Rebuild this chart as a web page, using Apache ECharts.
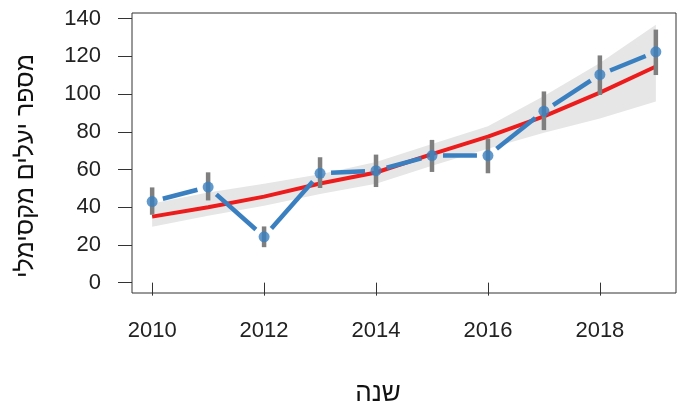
<!DOCTYPE html>
<html>
<head>
<meta charset="utf-8">
<script src="https://cdn.jsdelivr.net/npm/echarts@6/dist/echarts.min.js"></script>
<style>html,body{margin:0;padding:0;background:#fff}#c{width:677px;height:417px}</style>
</head>
<body>
<div id="c"></div>
<script>
// ---- data ----
const years = [2010, 2011, 2012, 2013, 2014, 2015, 2016, 2017, 2018, 2019];
const observed = [43, 50.7, 24.3, 58, 59.4, 67.4, 67.4, 90.9, 110.3, 122.4];
const errHigh = [50.5, 58.5, 29.8, 66.5, 67.9, 75.7, 76.4, 101.4, 120.5, 134.2];
const errLow  = [36, 43.6, 18.8, 50.2, 50.7, 58.7, 58, 80.9, 99.5, 110.1];
const fitted = [35, 40, 45.6, 52.6, 58.4, 68.2, 77.4, 88.2, 100.8, 114.6];
const bandUpper = [42, 47.8, 52.5, 57.5, 64, 73.5, 83, 99, 116.5, 136.8];
const bandLower = [29.7, 35.5, 40.8, 47, 52.5, 62, 71, 79.5, 87, 96.1];
const xTicks = [2010, 2012, 2014, 2016, 2018];
const yTicks = [0, 20, 40, 60, 80, 100, 120, 140];
const xTitle = 'שנה';
const yTitle = 'מספר יעלים מקסימלי';

const FONT = 'Liberation Sans, Arial, sans-serif';
const BLUE = '#3a7fc0';
const RED = '#ec1c1c';
const GRAY = '#7f7f7f';
const GAP = 11;

const chart = echarts.init(document.getElementById('c'), null, {renderer: 'canvas'});

const segData = years.slice(0, -1).map((y, i) => [y, observed[i], years[i + 1], observed[i + 1]]);

chart.setOption({
  animation: false,
  backgroundColor: '#fff',
  grid: {left: 132, right: 1, top: 13, bottom: 124, show: true, borderColor: '#333', borderWidth: 1, backgroundColor: 'transparent'},
  xAxis: {
    type: 'value', min: 2009.64, max: 2019.36,
    splitLine: {show: false},
    axisLine: {show: false},
    axisTick: {show: true, inside: false, length: 13, customValues: xTicks, lineStyle: {color: '#333', width: 1}},
    axisLabel: {customValues: xTicks, margin: 27, color: '#222', fontSize: 22, fontFamily: FONT, formatter: v => String(v)}
  },
  yAxis: {
    type: 'value', min: -5.5, max: 143,
    splitLine: {show: false},
    axisLine: {show: false},
    axisTick: {show: true, inside: false, length: 14, customValues: yTicks, lineStyle: {color: '#333', width: 1}},
    axisLabel: {customValues: yTicks, margin: 31, color: '#222', fontSize: 22, fontFamily: FONT, formatter: v => String(v)}
  },
  graphic: [
    {type: 'text', x: 378, y: 394, style: {text: xTitle, fontSize: 26, fontFamily: FONT, fill: '#111', align: 'center', verticalAlign: 'middle'}},
    {type: 'text', x: 26, y: 166, rotation: Math.PI / 2, style: {text: yTitle, fontSize: 25, fontFamily: FONT, fill: '#111', align: 'center', verticalAlign: 'middle'}}
  ],
  series: [
    {
      type: 'custom', z: 1, silent: true,
      data: [[years[0], bandLower[0]]],
      renderItem: function (params, api) {
        const pts = [];
        for (let i = 0; i < years.length; i++) pts.push(api.coord([years[i], bandUpper[i]]));
        for (let i = years.length - 1; i >= 0; i--) pts.push(api.coord([years[i], bandLower[i]]));
        return {type: 'polygon', shape: {points: pts}, style: {fill: '#e6e6e6', stroke: null}};
      }
    },
    {
      type: 'line', z: 2, silent: true, symbol: 'none',
      data: years.map((y, i) => [y, fitted[i]]),
      lineStyle: {color: RED, width: 4}
    },
    {
      type: 'custom', z: 3, silent: true,
      data: years.map((y, i) => [y, errLow[i], errHigh[i]]),
      encode: {x: 0, y: [1, 2]},
      renderItem: function (params, api) {
        const a = api.coord([api.value(0), api.value(1)]);
        const b = api.coord([api.value(0), api.value(2)]);
        return {type: 'line', shape: {x1: a[0], y1: a[1], x2: b[0], y2: b[1]}, style: {stroke: GRAY, lineWidth: 4.5}};
      }
    },
    {
      type: 'custom', z: 4, silent: true,
      data: segData,
      encode: {x: [0, 2], y: [1, 3]},
      renderItem: function (params, api) {
        const a = api.coord([api.value(0), api.value(1)]);
        const b = api.coord([api.value(2), api.value(3)]);
        const dx = b[0] - a[0], dy = b[1] - a[1];
        const L = Math.sqrt(dx * dx + dy * dy);
        if (L <= 2 * GAP) return null;
        const ux = dx / L, uy = dy / L;
        return {type: 'line', shape: {x1: a[0] + ux * GAP, y1: a[1] + uy * GAP, x2: b[0] - ux * GAP, y2: b[1] - uy * GAP},
          style: {stroke: BLUE, lineWidth: 4.5, lineCap: 'butt'}};
      }
    },
    {
      type: 'scatter', z: 5, silent: true,
      data: years.map((y, i) => [y, observed[i]]),
      symbol: 'circle', symbolSize: 11,
      itemStyle: {color: BLUE}
    }
  ]
});
</script>
</body>
</html>
